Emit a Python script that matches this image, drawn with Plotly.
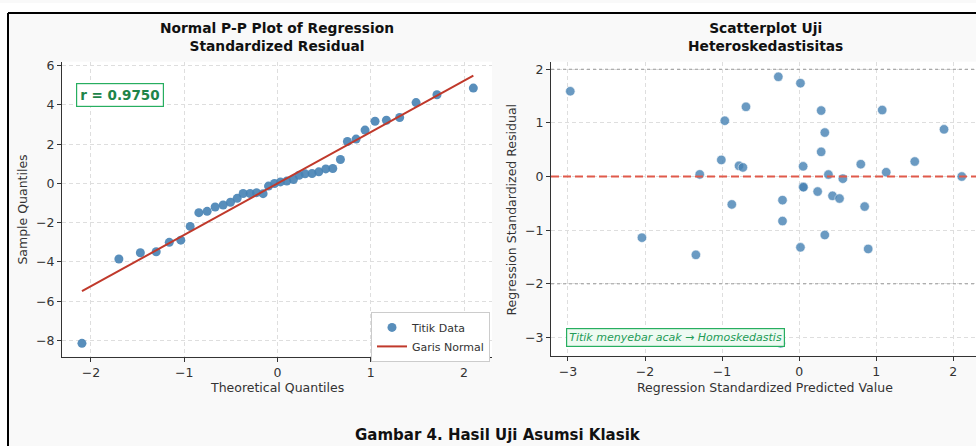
import plotly.graph_objects as go

W, H = 976, 446

# ---- Left panel: Normal P-P plot data ----
theoretical_q = [-2.096, -1.70, -1.47, -1.30, -1.16, -1.036, -0.936, -0.843, -0.754, -0.668,
                 -0.582, -0.504, -0.432, -0.368, -0.293, -0.225, -0.154, -0.096, -0.032, 0.032,
                 0.10, 0.171, 0.232, 0.296, 0.371, 0.443, 0.518, 0.593, 0.675, 0.75,
                 0.843, 0.939, 1.046, 1.168, 1.31, 1.486, 1.71, 2.10]
sample_q = [-8.15, -3.85, -3.53, -3.48, -3.00, -2.89, -2.19, -1.49, -1.42, -1.20,
            -1.10, -0.96, -0.76, -0.51, -0.51, -0.47, -0.52, -0.135, 0.0, 0.08,
            0.12, 0.20, 0.42, 0.49, 0.51, 0.59, 0.74, 0.76, 1.22, 2.14,
            2.26, 2.72, 3.17, 3.22, 3.36, 4.12, 4.52, 4.86]
normal_line_x = [-2.096, 2.10]
normal_line_y = [-5.49, 5.49]

# ---- Right panel: scatter heteroskedasticity ----
pred_std = [-2.97, -2.04, -1.34, -1.29, -1.01, -0.965, -0.874, -0.78, -0.73, -0.69,
            -0.27, -0.216, -0.216, -0.24, 0.017, 0.017, 0.052, 0.052, 0.056, 0.24,
            0.286, 0.286, 0.333, 0.333, 0.38, 0.433, 0.524, 0.567, 0.80, 0.85,
            0.896, 1.078, 1.13, 1.50, 1.88, 2.11]
resid_std = [1.59, -1.14, -1.46, 0.04, 0.31, 1.04, -0.52, 0.20, 0.17, 1.30,
             1.86, -0.44, -0.83, -3.11, 1.74, -1.32, 0.19, -0.19, -0.20, -0.28,
             1.23, 0.46, 0.82, -1.09, 0.037, -0.36, -0.41, -0.04, 0.23, -0.56,
             -1.35, 1.24, 0.08, 0.28, 0.88, 0.0]

left_xticks = [-2, -1, 0, 1, 2]
left_yticks = [-8, -6, -4, -2, 0, 2, 4, 6]
right_xticks = [-3, -2, -1, 0, 1, 2]
right_yticks = [-3, -2, -1, 0, 1, 2]

def px(x):
    return x / W

def py(y):
    return 1 - y / H

FONT = "DejaVu Sans"
DARK = "#333333"
GRID = "#dedede"

fig = go.Figure()

fig.add_trace(go.Scatter(
    x=theoretical_q, y=sample_q, mode="markers", name="Titik Data",
    marker=dict(color="steelblue", size=9, opacity=0.9),
    xaxis="x", yaxis="y"))
fig.add_trace(go.Scatter(
    x=normal_line_x, y=normal_line_y, mode="lines", name="Garis Normal",
    line=dict(color="#c0392b", width=2), xaxis="x", yaxis="y"))
fig.add_trace(go.Scatter(
    x=pred_std, y=resid_std, mode="markers", showlegend=False,
    marker=dict(color="steelblue", size=9.5, opacity=0.8,
                line=dict(color="white", width=0.6)),
    xaxis="x2", yaxis="y2"))

axis_common = dict(
    showline=True, linecolor=DARK, linewidth=1.2, mirror=False,
    ticks="outside", ticklen=4, tickcolor=DARK, tickwidth=1,
    showgrid=True, gridcolor=GRID, griddash="4px,3px", gridwidth=0.8,
    zeroline=False, tickfont=dict(family=FONT, size=12.5, color=DARK),
)

fig.update_layout(
    width=W, height=H,
    margin=dict(l=0, r=0, t=0, b=0),
    paper_bgcolor="#f9f9f9",
    plot_bgcolor="white",
    font=dict(family=FONT, color=DARK),
    xaxis=dict(domain=[px(62), px(492)], range=[-2.31, 2.30], tickvals=left_xticks,
               anchor="y", **axis_common),
    yaxis=dict(domain=[py(356), py(59)], range=[-8.825, 6.21], tickvals=left_yticks,
               anchor="x", **axis_common),
    xaxis2=dict(domain=[px(551), 1.0], range=[-3.22, 2.295], tickvals=right_xticks,
                anchor="y2", **axis_common),
    yaxis2=dict(domain=[py(355), py(59)], range=[-3.339, 2.143], tickvals=right_yticks,
                anchor="x2", **axis_common),
    legend=dict(x=px(371), y=py(311), xanchor="left", yanchor="top",
                bgcolor="white", bordercolor="#cccccc", borderwidth=1,
                font=dict(family=FONT, size=11, color=DARK),
                itemwidth=30, tracegroupgap=0),
    showlegend=True,
)

shapes = [
    # white outside area of the framed screenshot
    dict(type="rect", xref="paper", yref="paper", x0=0, x1=1, y0=py(10), y1=1,
         fillcolor="white", line=dict(width=0), layer="below"),
    dict(type="rect", xref="paper", yref="paper", x0=0, x1=px(8), y0=0, y1=1,
         fillcolor="white", line=dict(width=0), layer="below"),
    # frame lines
    dict(type="line", xref="paper", yref="paper", x0=px(8), x1=1.01, y0=py(10), y1=py(10),
         line=dict(color="black", width=2)),
    dict(type="line", xref="paper", yref="paper", x0=px(8), x1=px(8), y0=py(10), y1=-0.01,
         line=dict(color="black", width=2)),
    # right panel reference lines
    dict(type="line", xref="x2 domain", yref="y2", x0=0, x1=1, y0=2, y1=2,
         line=dict(color="#999999", width=1, dash="dot")),
    dict(type="line", xref="x2 domain", yref="y2", x0=0, x1=1, y0=-2, y1=-2,
         line=dict(color="#999999", width=1, dash="dot")),
    dict(type="line", xref="x2 domain", yref="y2", x0=0, x1=1, y0=0, y1=0,
         line=dict(color="#e05a4b", width=2, dash="8px,4px")),
]
fig.update_layout(shapes=shapes)

ann = [
    dict(text="<b>Normal P-P Plot of Regression<br>Standardized Residual</b>",
         x=px(277), y=py(34), font=dict(size=13.8, color="#111111")),
    dict(text="<b>Scatterplot Uji<br>Heteroskedastisitas</b>",
         x=px(765), y=py(34), font=dict(size=13.8, color="#111111")),
    dict(text="Theoretical Quantiles", x=px(277), y=py(387), font=dict(size=12.5)),
    dict(text="Regression Standardized Predicted Value", x=px(765), y=py(387),
         font=dict(size=12.5)),
    dict(text="Sample Quantiles", x=px(23), y=py(208), textangle=-90, font=dict(size=12.5)),
    dict(text="Regression Standardized Residual", x=px(512), y=py(208), textangle=-90,
         font=dict(size=12.5)),
    dict(text="<b>Gambar 4. Hasil Uji Asumsi Klasik</b>", x=px(498), y=py(435),
         font=dict(size=15, color="#111111")),
    dict(text="<b>r = 0.9750</b>", x=px(120), y=py(92.5),
         font=dict(size=13.5, color="#1e8449"), bgcolor="white",
         bordercolor="#27ae60", borderwidth=1.2, borderpad=3),
    dict(text="<i>Titik menyebar acak → Homoskedastis</i>", x=px(675), y=py(337),
         font=dict(size=11, color="#239b56"), bgcolor="#eefaf2",
         bordercolor="#27ae60", borderwidth=1.2, borderpad=2),
]
for a in ann:
    a.setdefault("xref", "paper")
    a.setdefault("yref", "paper")
    a.setdefault("showarrow", False)
    a.setdefault("xanchor", "center")
    a.setdefault("yanchor", "middle")
    f = a.setdefault("font", {})
    f.setdefault("family", FONT)
    f.setdefault("color", DARK)
fig.update_layout(annotations=ann)

fig.write_html(
    "out.html",
    config={"displayModeBar": False},
    post_script="document.body.style.margin='0';document.body.style.padding='0';"
                "document.documentElement.style.overflow='hidden';",
)
